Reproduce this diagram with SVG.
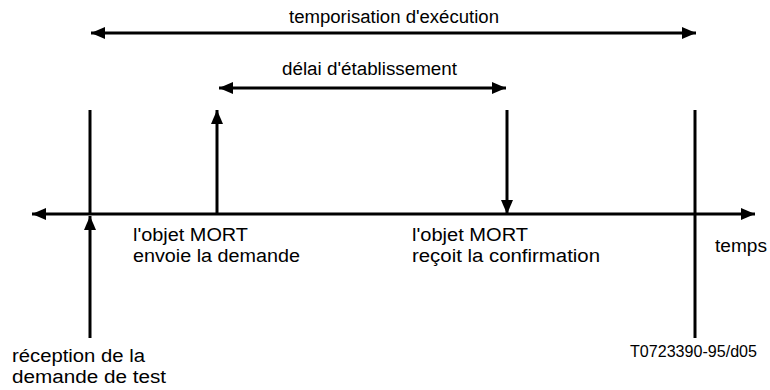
<svg xmlns="http://www.w3.org/2000/svg" width="770" height="390" viewBox="0 0 770 390">
  <style>
    .ln { stroke: #000; stroke-width: 3; fill: none; }
    .t { font-family: "Liberation Sans", Arial, sans-serif; font-size: 18px; fill: #000; }
    .s { font-family: "Liberation Sans", Arial, sans-serif; font-size: 16px; fill: #000; }
  </style>
  <defs>
    <marker id="ah" viewBox="0 0 14 12" refX="14" refY="6" markerWidth="14" markerHeight="12" markerUnits="userSpaceOnUse" orient="auto-start-reverse">
      <path d="M0,0 L14,6 L0,12 Z" fill="#000"/>
    </marker>
  </defs>

  <g id="connectors">
    <!-- time axis -->
    <line class="ln" x1="32" y1="214" x2="755" y2="214" marker-start="url(#ah)" marker-end="url(#ah)"/>
    <!-- overall execution timer span -->
    <line class="ln" x1="91" y1="33" x2="696" y2="33" marker-start="url(#ah)" marker-end="url(#ah)"/>
    <!-- establishment delay span -->
    <line class="ln" x1="219" y1="88" x2="506" y2="88" marker-start="url(#ah)" marker-end="url(#ah)"/>
    <!-- request received -->
    <line class="ln" x1="90" y1="110" x2="90" y2="214"/>
    <line class="ln" x1="90" y1="338" x2="90" y2="216" marker-end="url(#ah)"/>
    <!-- request sent -->
    <line class="ln" x1="217" y1="214" x2="217" y2="110" marker-end="url(#ah)"/>
    <!-- confirmation received -->
    <line class="ln" x1="507" y1="110" x2="507" y2="214" marker-end="url(#ah)"/>
    <!-- timer end -->
    <line class="ln" x1="695" y1="110" x2="695" y2="338"/>
  </g>

  <g id="label-timer">
    <text class="t" x="289" y="23" textLength="210" lengthAdjust="spacingAndGlyphs">temporisation d'exécution</text>
  </g>
  <g id="label-delay">
    <text class="t" x="282" y="75" textLength="175" lengthAdjust="spacingAndGlyphs">délai d'établissement</text>
  </g>
  <g id="label-send">
    <text class="t" x="133" y="241" textLength="115" lengthAdjust="spacingAndGlyphs">l'objet MORT</text>
    <text class="t" x="133" y="262" textLength="167" lengthAdjust="spacingAndGlyphs">envoie la demande</text>
  </g>
  <g id="label-confirm">
    <text class="t" x="412" y="241" textLength="116" lengthAdjust="spacingAndGlyphs">l'objet MORT</text>
    <text class="t" x="412" y="262" textLength="188" lengthAdjust="spacingAndGlyphs">reçoit la confirmation</text>
  </g>
  <g id="label-time">
    <text class="t" x="715" y="252" textLength="52" lengthAdjust="spacingAndGlyphs">temps</text>
  </g>
  <g id="label-reception">
    <text class="t" x="12" y="362" textLength="133" lengthAdjust="spacingAndGlyphs">réception de la</text>
    <text class="t" x="12" y="383" textLength="154" lengthAdjust="spacingAndGlyphs">demande de test</text>
  </g>
  <g id="label-ref">
    <text class="s" x="630" y="357" textLength="127" lengthAdjust="spacingAndGlyphs">T0723390-95/d05</text>
  </g>
</svg>
